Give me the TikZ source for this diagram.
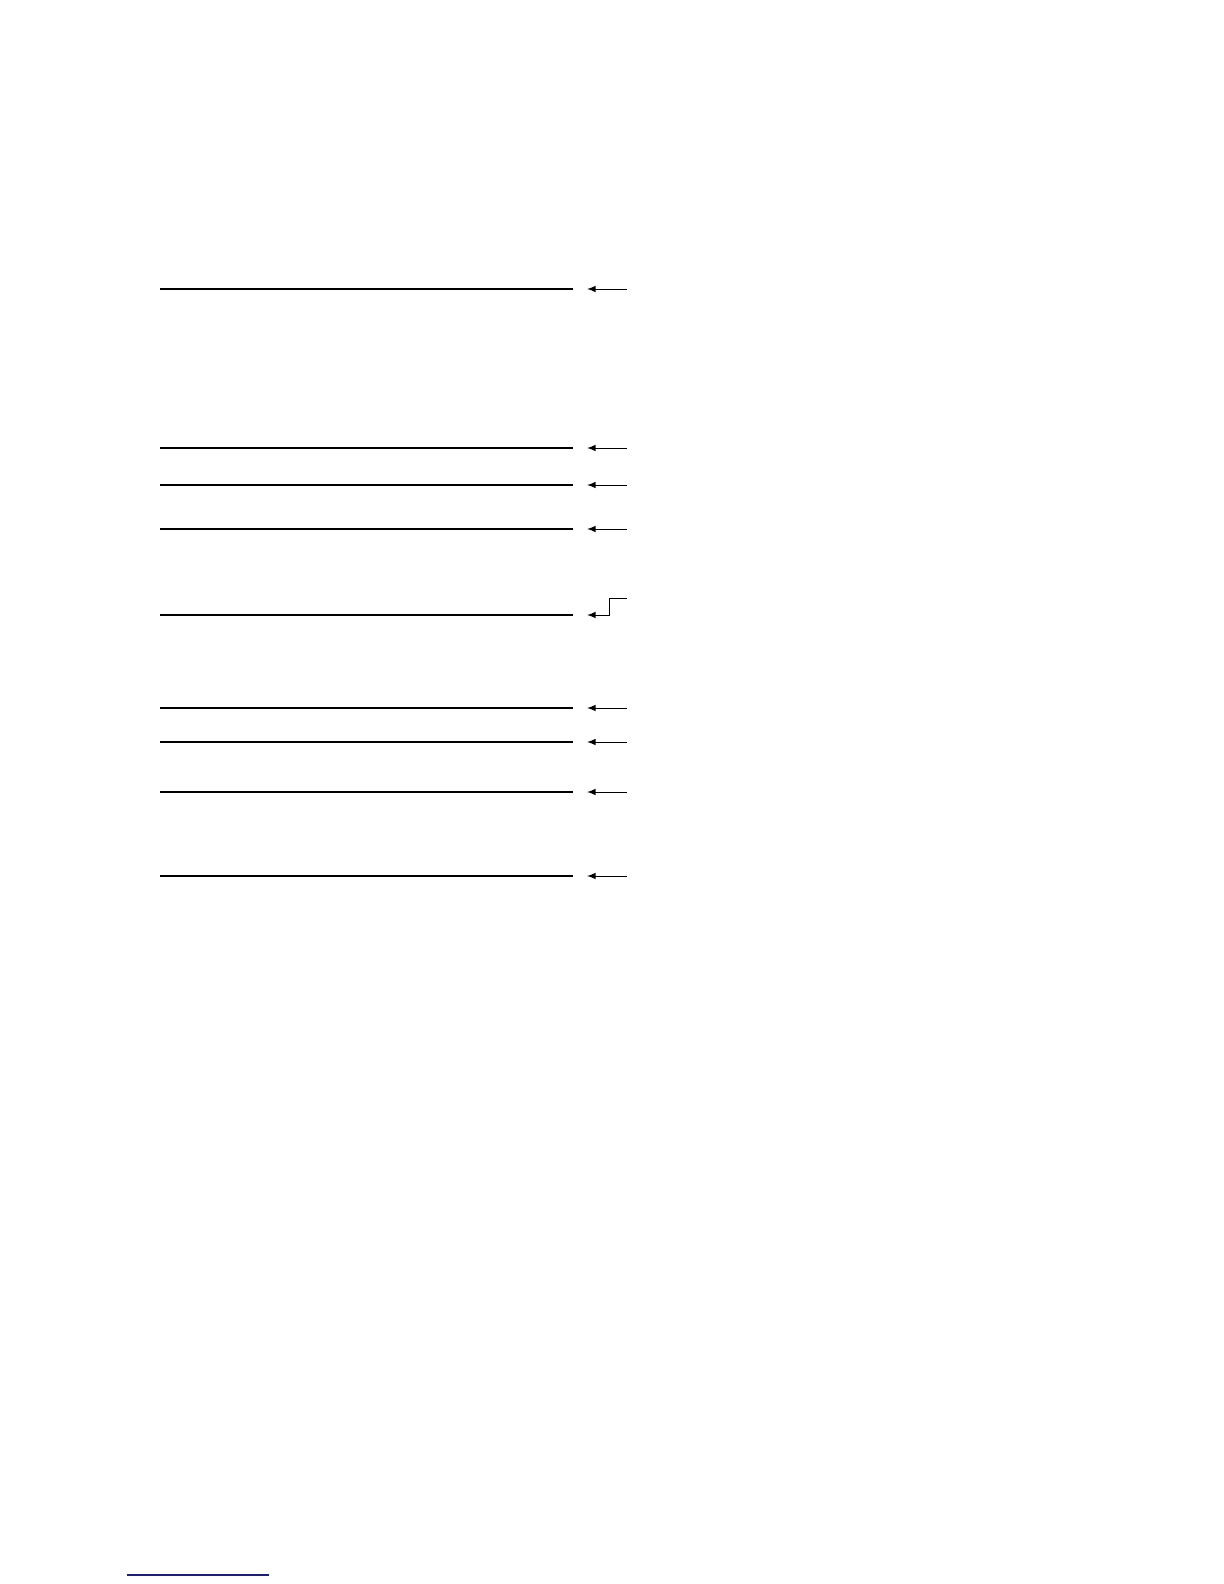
\documentclass[tikz,border=0pt]{standalone}
\usetikzlibrary{arrows}
\definecolor{linkblue}{RGB}{28,28,128}
\tikzstyle{rule}    = [line width=1pt]
\tikzstyle{pointer} = [line width=0.5pt,<-,>=latex]
\begin{document}
\begin{tikzpicture}[x=0.5pt,y=-0.5pt]
		\useasboundingbox (0,0) rectangle (1224,1584);

		% ruled lines with their pointers
		\foreach \y/\w in {289/1pt,448/0.55pt,485/0.9pt,529/0.9pt,708/0.9pt,742/0.9pt,792/0.7pt,876/0.9pt} {
			\draw[line width=\w] (160,\y) -- (573,\y);
			\coordinate (tip) at (587,\y);
			\coordinate (tail) at (627,\y);
			\draw[pointer] (tip) -- (tail);
		}

		% the line with the stepped pointer
		\draw[line width=0.55pt] (160,615) -- (573,615);
		\coordinate (steptip) at (587,615);
		\coordinate (stepknee) at (609,598);
		\coordinate (steptail) at (627,598);
		\draw[pointer] (steptip) -| (stepknee) -- (steptail);

		% underline at the foot of the page
		\draw[linkblue,line width=0.75pt] (127,1575) -- (269,1575);
	\end{tikzpicture}
\end{document}
